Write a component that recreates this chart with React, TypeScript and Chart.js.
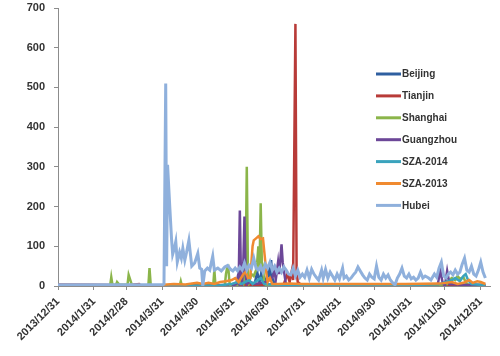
import React, { useEffect, useRef } from "react";
import { Chart, registerables } from "chart.js";

Chart.register(...registerables);

const tickDays = [0, 31, 59, 90, 120, 151, 181, 212, 243, 273, 304, 334, 365];
const tickLabels = [
  "2013/12/31", "2014/1/31", "2014/2/28", "2014/3/31", "2014/4/30", "2014/5/31",
  "2014/6/30", "2014/7/31", "2014/8/31", "2014/9/30", "2014/10/31", "2014/11/30", "2014/12/31",
];

const seriesNames = ["Beijing", "Tianjin", "Shanghai", "Guangzhou", "SZA-2014", "SZA-2013", "Hubei"];
const seriesColors = ["#2f5fa0", "#b83b38", "#8bb54a", "#6c4798", "#3aa3bd", "#f08a30", "#8fb0dc"];

const beijingDays = [0, 91, 150, 160, 170, 172, 174, 176, 178, 180, 182, 183, 184, 185, 187, 200, 369];
const beijingValues = [0, 0, 2, 5, 8, 35, 10, 40, 8, 20, 40, 15, 65, 20, 5, 2, 1];

const tianjinDays = [0, 30, 60, 70, 71, 90, 120, 180, 195, 198, 200, 202, 203, 205, 206, 207, 209, 212, 369];
const tianjinValues = [4, 3, 2, 5, 2, 2, 2, 3, 5, 30, 10, 40, 15, 660, 40, 10, 5, 2, 3];

const shanghaiDays = [0, 45, 46, 47, 50, 51, 53, 60, 61, 63, 64, 78, 79, 80, 81, 105, 106, 107, 134, 135, 136, 144, 145, 146, 147, 148, 149, 155, 158, 160, 162, 163, 164, 165, 167, 169, 171, 172, 173, 174, 175, 176, 177, 178, 180, 320, 336, 338, 340, 343, 345, 347, 350, 352, 355, 369];
const shanghaiValues = [0, 0, 22, 3, 2, 10, 3, 3, 28, 10, 0, 0, 45, 5, 0, 0, 12, 0, 0, 40, 0, 0, 30, 45, 48, 10, 0, 0, 15, 5, 40, 300, 40, 10, 30, 25, 40, 60, 100, 40, 208, 60, 50, 10, 0, 0, 5, 15, 20, 15, 25, 18, 22, 10, 0, 0];

const guangzhouDays = [150, 154, 155, 156, 157, 158, 159, 160, 161, 162, 163, 166, 170, 180, 185, 187, 188, 190, 191, 193, 194, 196, 197, 250, 328, 330, 332, 334, 336, 338, 369];
const guangzhouValues = [0, 5, 20, 10, 190, 20, 10, 60, 175, 30, 5, 10, 5, 10, 20, 40, 15, 60, 30, 105, 60, 20, 0, 2, 5, 40, 10, 0, 38, 5, 0];

const sza2014Days = [91, 140, 150, 155, 158, 165, 168, 175, 178, 190, 200, 250, 310, 330, 340, 343, 347, 350, 352, 354, 357, 369];
const sza2014Values = [0, 2, 5, 10, 5, 15, 5, 20, 5, 3, 2, 2, 3, 5, 15, 20, 12, 25, 30, 15, 5, 2];

const sza2013Days = [91, 100, 110, 120, 125, 130, 135, 140, 145, 150, 153, 156, 158, 160, 162, 164, 166, 167, 168, 169, 171, 173, 175, 177, 178, 179, 180, 181, 183, 185, 190, 200, 210, 250, 300, 330, 340, 345, 350, 355, 358, 362, 365, 369];
const sza2013Values = [3, 5, 4, 8, 5, 8, 5, 10, 12, 15, 20, 10, 20, 30, 35, 20, 20, 60, 100, 115, 120, 125, 118, 120, 90, 60, 30, 10, 20, 5, 5, 6, 5, 5, 5, 6, 10, 5, 8, 15, 8, 12, 10, 5];

const hubeiDays = [0, 90, 91.5, 93, 93.8, 94.6, 96.5, 98, 99, 100.5, 101.7, 103, 105, 106.5, 107.8, 109.5, 111, 113, 115.5, 118, 120.7, 122.4, 124, 125, 126.7, 129, 131, 133.6, 135, 138, 141, 144, 146.5, 149, 151, 153, 155, 157, 159, 161, 163, 165, 167, 169, 171, 173, 175, 177, 179, 181, 183, 185, 187, 189, 191, 193, 195, 197, 199, 201, 203, 205, 207, 209, 211, 213, 215, 217, 219, 221, 223, 225, 227.6, 229, 231, 233, 235, 237, 239, 241, 243, 245.7, 247, 249, 251, 253, 255, 257, 259, 261, 263, 265, 267, 269, 271, 273, 275, 277, 279, 281, 283, 285, 287, 289, 291, 293, 295, 297, 299, 301, 303, 305, 307, 309, 311, 313, 315, 317, 320, 322, 325, 327, 329, 331, 333, 335, 337, 339, 341, 343, 345, 347, 349, 351, 353, 355, 357, 359, 361, 363, 365, 367, 369];
const hubeiValues = [3, 3, 5, 510, 50, 305, 200, 120, 80, 95, 112, 60, 85, 70, 95, 65, 85, 115, 50, 58, 82, 45, 42, 0, 38, 45, 40, 75, 40, 45, 38, 48, 52, 42, 38, 45, 38, 48, 40, 58, 40, 52, 45, 70, 45, 40, 50, 35, 55, 45, 60, 40, 50, 35, 45, 35, 48, 40, 30, 28, 45, 25, 40, 22, 30, 22, 40, 20, 42, 30, 22, 15, 40, 20, 42, 20, 35, 25, 15, 30, 18, 45, 20, 25, 15, 20, 28, 35, 48, 38, 28, 20, 15, 30, 22, 18, 50, 22, 15, 30, 20, 28, 15, 8, 3, 20, 30, 45, 25, 20, 30, 18, 22, 15, 20, 35, 20, 25, 20, 15, 30, 22, 45, 60, 25, 20, 30, 35, 28, 40, 30, 35, 55, 70, 40, 35, 50, 30, 25, 40, 60, 35, 20];

const seriesDays = [beijingDays, tianjinDays, shanghaiDays, guangzhouDays, sza2014Days, sza2013Days, hubeiDays];
const seriesValues = [beijingValues, tianjinValues, shanghaiValues, guangzhouValues, sza2014Values, sza2013Values, hubeiValues];

const FONT = "Liberation Sans, Arial, sans-serif";

const legendPlugin = {
  id: "customLegend",
  afterDraw(chart: any) {
    const ctx = chart.ctx;
    ctx.save();
    ctx.font = "bold 10px " + FONT;
    ctx.textBaseline = "middle";
    seriesNames.forEach((name, i) => {
      const y = 74 + i * 21.9;
      ctx.strokeStyle = seriesColors[i];
      ctx.lineWidth = 3;
      ctx.beginPath();
      ctx.moveTo(376, y);
      ctx.lineTo(401, y);
      ctx.stroke();
      ctx.fillStyle = "#333333";
      ctx.fillText(name, 402, y + 0.5);
    });
    ctx.restore();
  },
};

export default function App() {
  const ref = useRef<HTMLCanvasElement>(null);
  useEffect(() => {
    if (!ref.current) return;
    const datasets = seriesNames.map((name, i) => ({
      label: name,
      data: seriesDays[i].map((d, j) => ({ x: d, y: seriesValues[i][j] })),
      borderColor: seriesColors[i],
      backgroundColor: seriesColors[i],
      borderWidth: i === 6 ? 3 : 2.5,
      pointRadius: 0,
      tension: 0,
      order: seriesNames.length - i,
    }));
    const chart = new Chart(ref.current, {
      type: "line",
      data: { datasets },
      options: {
        animation: false,
        responsive: false,
        layout: { padding: { top: 8, right: 10, left: 0, bottom: 0 } },
        plugins: { legend: { display: false }, tooltip: { enabled: false } },
        scales: {
          x: {
            type: "linear",
            min: 0,
            max: 373,
            afterBuildTicks: (scale: any) => {
              scale.ticks = tickDays.map((v) => ({ value: v }));
            },
            afterFit: (scale: any) => {
              scale.height = 70;
              scale.paddingLeft = 0;
              scale.paddingRight = 0;
            },
            ticks: {
              autoSkip: false,
              minRotation: 45,
              maxRotation: 45,
              padding: 5,
              color: "#333333",
              font: { family: FONT, size: 11, weight: "bold" },
              callback: (_v: any, i: number) => tickLabels[i],
            },
            grid: { display: true, drawOnChartArea: false, tickLength: 4, color: "#8c8c8c" },
            border: { color: "#8c8c8c" },
          },
          y: {
            min: 0,
            max: 700,
            afterFit: (scale: any) => {
              scale.width = 58;
              scale.paddingTop = 0;
              scale.paddingBottom = 0;
            },
            ticks: {
              stepSize: 100,
              padding: 9,
              color: "#333333",
              font: { family: FONT, size: 11, weight: "bold" },
            },
            grid: { display: true, drawOnChartArea: false, tickLength: 4, color: "#8c8c8c" },
            border: { color: "#8c8c8c" },
          },
        },
      } as any,
      plugins: [legendPlugin],
    });
    return () => chart.destroy();
  }, []);
  return (
    <div style={{ position: "fixed", left: 0, top: 0, width: 500, height: 356, background: "#fff" }}>
      <canvas ref={ref} width={500} height={356} style={{ width: 500, height: 356 }} />
    </div>
  );
}
